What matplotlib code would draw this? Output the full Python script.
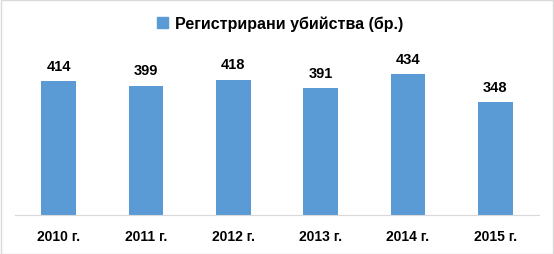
import matplotlib.pyplot as plt
from matplotlib.patches import Patch, Rectangle

# ===== данни
years = ["2010 г.", "2011 г.", "2012 г.", "2013 г.", "2014 г.", "2015 г."]
murders = [414, 399, 418, 391, 434, 348]
series_name = "Регистрирани убийства (бр.)"

BLUE = "#5B9BD5"
GRAY = "#D9D9D9"


def main():
    plt.rcParams["font.family"] = ["Liberation Sans", "DejaVu Sans"]
    W, H = 554, 255
    fig = plt.figure(figsize=(W / 100, H / 100), dpi=100)

    # рамка около цялата диаграма
    fig.patches.append(Rectangle((0.5 / W, 0.5 / H), 1 - 1.5 / W, 1 - 1.5 / H,
                                 transform=fig.transFigure, fill=False,
                                 edgecolor=GRAY, linewidth=1))

    ax = fig.add_axes([15 / W, (H - 216) / H, (539 - 15) / W, (216 - 54) / H])
    x = range(len(years))
    bars = ax.bar(x, murders, width=0.4, color=BLUE)
    ax.bar_label(bars, padding=6, fontsize=10.5, fontweight="bold")

    ax.set_xlim(-0.5, len(years) - 0.5)
    ax.set_ylim(0, 500)
    ax.set_xticks(list(x))
    ax.set_xticklabels(years, fontsize=10, fontweight="bold")
    ax.tick_params(axis="x", length=0, pad=10)
    ax.set_yticks([])
    for side in ["top", "left", "right"]:
        ax.spines[side].set_visible(False)
    ax.spines["bottom"].set_color(GRAY)

    fig.legend(handles=[Patch(color=BLUE, label=series_name)],
               loc="center", bbox_to_anchor=(280 / W, 1 - 24 / H),
               frameon=False, prop={"size": 11.5, "weight": "bold"},
               handlelength=0.7, handleheight=0.7, handletextpad=0.4)

    fig.savefig("out.png", dpi=100)


if __name__ == "__main__":
    main()
